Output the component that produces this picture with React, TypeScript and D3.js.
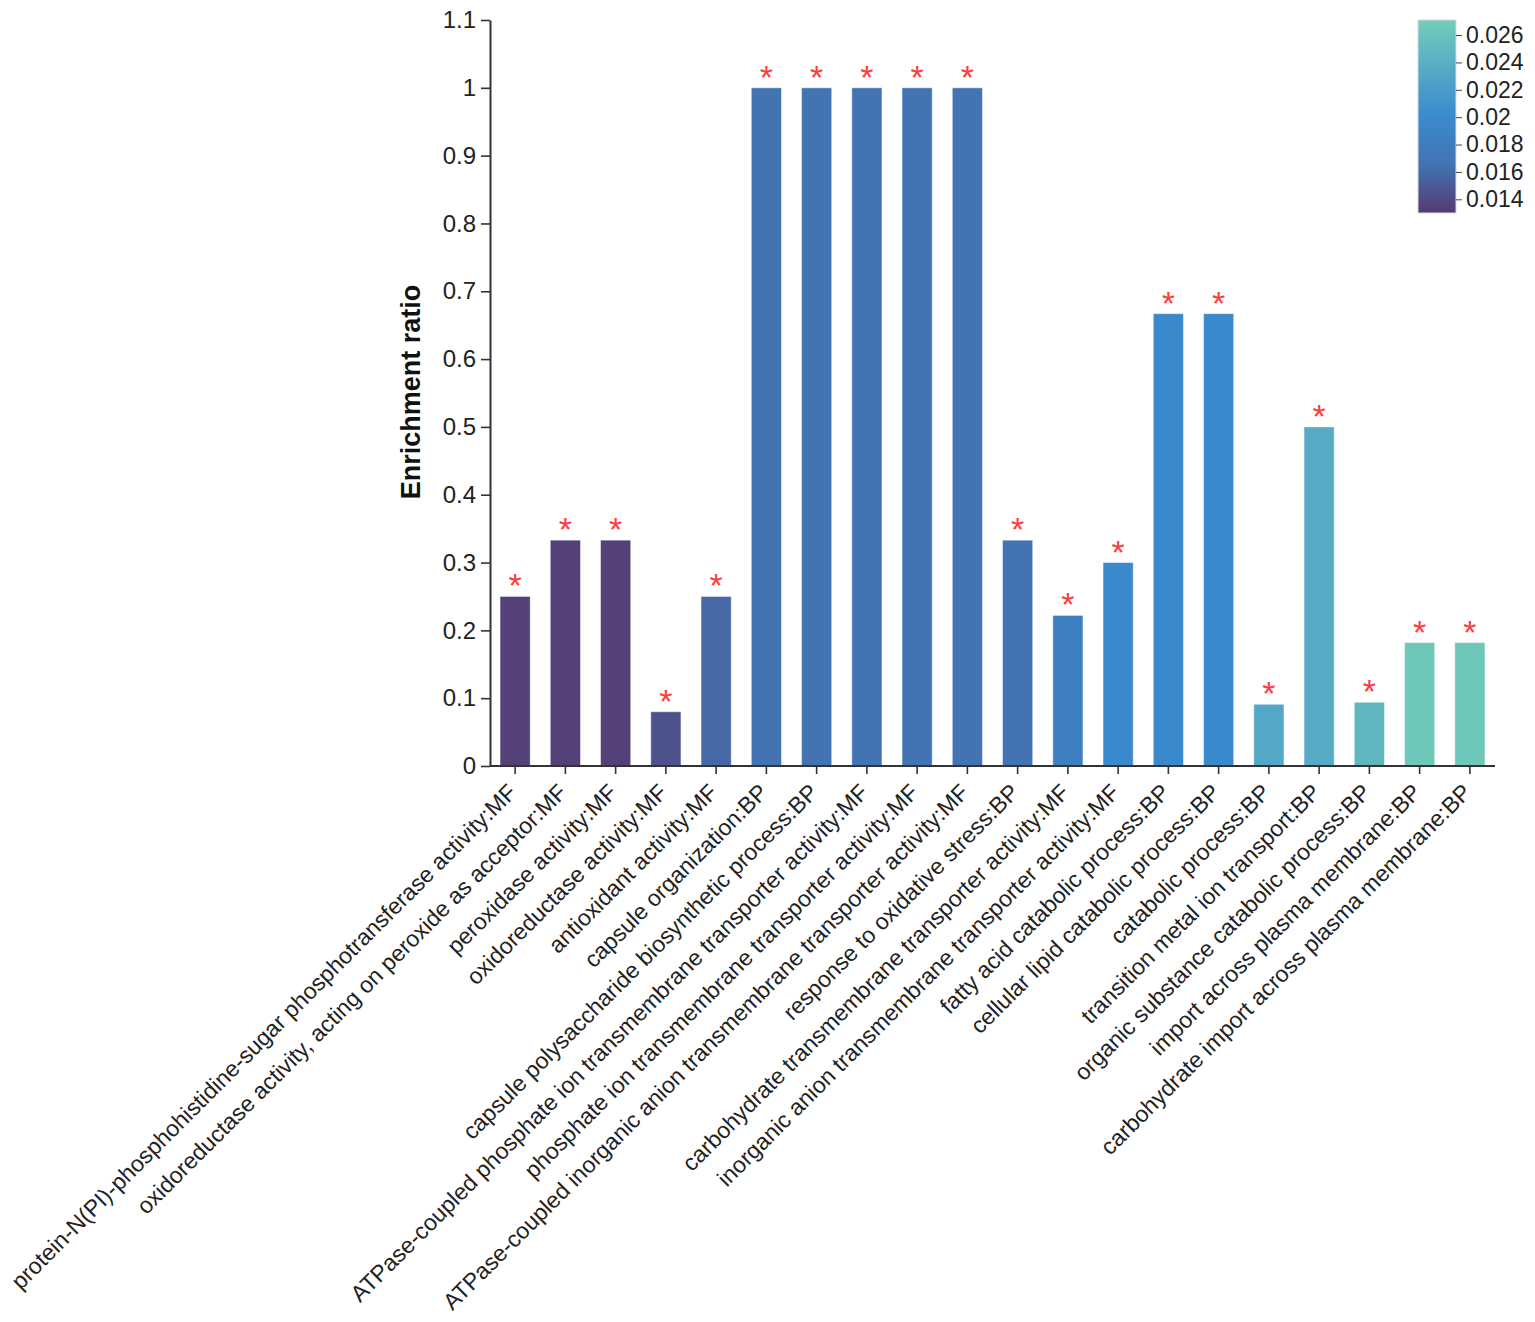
import * as d3 from "d3";
import { useEffect, useRef } from "react";

const categories = [
  "protein-N(PI)-phosphohistidine-sugar phosphotransferase activity:MF",
  "oxidoreductase activity, acting on peroxide as acceptor:MF",
  "peroxidase activity:MF",
  "oxidoreductase activity:MF",
  "antioxidant activity:MF",
  "capsule organization:BP",
  "capsule polysaccharide biosynthetic process:BP",
  "ATPase-coupled phosphate ion transmembrane transporter activity:MF",
  "phosphate ion transmembrane transporter activity:MF",
  "ATPase-coupled inorganic anion transmembrane transporter activity:MF",
  "response to oxidative stress:BP",
  "carbohydrate transmembrane transporter activity:MF",
  "inorganic anion transmembrane transporter activity:MF",
  "fatty acid catabolic process:BP",
  "cellular lipid catabolic process:BP",
  "catabolic process:BP",
  "transition metal ion transport:BP",
  "organic substance catabolic process:BP",
  "import across plasma membrane:BP",
  "carbohydrate import across plasma membrane:BP",
];

const enrichment = [
  0.25, 0.333, 0.333, 0.08, 0.25, 1, 1, 1, 1, 1, 0.333, 0.222, 0.3, 0.667,
  0.667, 0.091, 0.5, 0.094, 0.182, 0.182,
];

// p-values (colour)
const pValues = [
  0.0134, 0.0134, 0.0134, 0.0145, 0.0158, 0.0166, 0.0166, 0.0166, 0.0166,
  0.0166, 0.0166, 0.0184, 0.0198, 0.0198, 0.0198, 0.0232, 0.0236, 0.0248,
  0.0265, 0.0265,
];

const yTicks = [0, 0.1, 0.2, 0.3, 0.4, 0.5, 0.6, 0.7, 0.8, 0.9, 1, 1.1];
const legendTicks = [0.014, 0.016, 0.018, 0.02, 0.022, 0.024, 0.026];
const colorDomain = [0.013, 0.0165, 0.02, 0.0235, 0.0271];
const colorRange = ["#553a70", "#4273b2", "#3a8ace", "#56aac5", "#73ceb7"];

export default function App() {
  const ref = useRef<SVGSVGElement | null>(null);

  useEffect(() => {
    if (!ref.current) return;
    const svg = d3.select(ref.current);
    svg.selectAll("*").remove();

    const font = "Liberation Sans, Arial, Helvetica, sans-serif";
    const left = 490;
    const right = 1495;
    const top = 20;
    const bottom = 766;

    const x = d3
      .scaleBand()
      .domain(categories)
      .range([left, right])
      .paddingInner(0.4)
      .paddingOuter(0.2);

    const y = d3.scaleLinear().domain([0, 1.1]).range([bottom, top]);

    const color = d3
      .scaleLinear<string>()
      .domain(colorDomain)
      .range(colorRange)
      .interpolate(d3.interpolateRgb);

    const g = svg.append("g").style("font-family", font);

    // bars
    g.selectAll("rect.bar")
      .data(categories)
      .enter()
      .append("rect")
      .attr("class", "bar")
      .attr("x", (d) => x(d)!)
      .attr("width", x.bandwidth())
      .attr("y", (_, i) => y(enrichment[i]))
      .attr("height", (_, i) => bottom - y(enrichment[i]))
      .attr("fill", (_, i) => color(pValues[i]))
      .attr("stroke", "rgba(255,255,255,0.45)")
      .attr("stroke-width", 1);

    // significance stars
    g.selectAll("text.star")
      .data(categories)
      .enter()
      .append("text")
      .attr("class", "star")
      .attr("x", (d) => x(d)! + x.bandwidth() / 2)
      .attr("y", (_, i) => y(enrichment[i]) + 1)
      .attr("text-anchor", "middle")
      .attr("fill", "#ff3b3b")
      .style("font-size", "34px")
      .text("*");

    // y axis
    const yAxis = g
      .append("g")
      .attr("transform", `translate(${left},0)`)
      .call(
        d3
          .axisLeft(y)
          .tickValues(yTicks)
          .tickSize(9)
          .tickSizeOuter(0)
          .tickFormat((d) => d3.format("~g")(d as number))
      );
    yAxis.select(".domain").attr("stroke", "#333").attr("stroke-width", 2);
    yAxis.selectAll(".tick line").attr("stroke", "#333").attr("stroke-width", 1.6);
    yAxis
      .selectAll(".tick text")
      .attr("fill", "#222")
      .attr("x", -14)
      .style("font-size", "24px")
      .style("font-family", font);

    // x axis
    const xAxis = g
      .append("g")
      .attr("transform", `translate(0,${bottom})`)
      .call(d3.axisBottom(x).tickSize(8).tickSizeOuter(0));
    xAxis
      .select(".domain")
      .attr("stroke", "#333")
      .attr("stroke-width", 2)
      .attr("d", `M${left},0H${right}`);
    xAxis.selectAll(".tick line").attr("stroke", "#333").attr("stroke-width", 1.6);
    xAxis
      .selectAll(".tick text")
      .attr("fill", "#222")
      .attr("x", 0)
      .attr("y", 0)
      .attr("dy", "0.35em")
      .attr("text-anchor", "end")
      .attr("transform", "translate(-3,22) rotate(-45)")
      .style("font-size", "23px")
      .style("font-family", font);

    // y axis title
    g.append("text")
      .attr("transform", `translate(420,392) rotate(-90)`)
      .attr("text-anchor", "middle")
      .attr("fill", "#111")
      .style("font-size", "27px")
      .style("font-weight", "bold")
      .text("Enrichment ratio");

    // legend
    const lx = 1418;
    const lw = 38;
    const ly = d3.scaleLinear().domain([0.013, 0.0271]).range([213, 20]);
    const defs = svg.append("defs");
    const grad = defs
      .append("linearGradient")
      .attr("id", "pgrad")
      .attr("x1", "0")
      .attr("y1", "1")
      .attr("x2", "0")
      .attr("y2", "0");
    colorDomain.forEach((v, i) => {
      grad
        .append("stop")
        .attr("offset", `${((v - 0.013) / (0.0271 - 0.013)) * 100}%`)
        .attr("stop-color", colorRange[i]);
    });
    g.append("rect")
      .attr("x", lx)
      .attr("y", ly(0.0271))
      .attr("width", lw)
      .attr("height", ly(0.013) - ly(0.0271))
      .attr("fill", "url(#pgrad)")
      .attr("stroke", "#d8d8e8")
      .attr("stroke-width", 1);
    const lAxis = g
      .append("g")
      .attr("transform", `translate(${lx + lw},0)`)
      .call(
        d3
          .axisRight(ly)
          .tickValues(legendTicks)
          .tickSize(6)
          .tickFormat((d) => d3.format("~g")(d as number))
      );
    lAxis.select(".domain").remove();
    lAxis.selectAll(".tick line").attr("stroke", "#444");
    lAxis
      .selectAll(".tick text")
      .attr("fill", "#222")
      .attr("x", 10)
      .style("font-size", "23px")
      .style("font-family", font);
  }, []);

  return (
    <svg
      ref={ref}
      width={1535}
      height={1322}
      style={{ position: "absolute", left: 0, top: 0, background: "#fff" }}
    />
  );
}
